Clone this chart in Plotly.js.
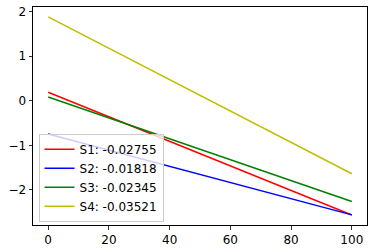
<!DOCTYPE html>
<html><head><meta charset="utf-8">
<script src="https://cdn.plot.ly/plotly-3.0.1.min.js"></script>
<style>html,body{margin:0;padding:0;background:#fff}#chart{width:373px;height:252px}</style>
</head><body><div id="chart"></div>
<script>
const xVals = [0, 100];
const s1 = [0.19, -2.565];
const s2 = [-0.745, -2.563];
const s3 = [0.083, -2.262];
const s4 = [1.883, -1.638];
const seriesNames = ["S1: -0.02755", "S2: -0.01818", "S3: -0.02345", "S4: -0.03521"];
const seriesColors = ["#ff0000", "#0000ff", "#008000", "#bfbf00"];
const xTicks = [0, 20, 40, 60, 80, 100];
const yTicks = [-2, -1, 0, 1, 2];
const yTickText = ["\u22122", "\u22121", "0", "1", "2"];

const data = [s1, s2, s3, s4].map((ys, i) => ({
  x: xVals, y: ys, type: "scatter", mode: "lines", name: seriesNames[i],
  line: {color: seriesColors[i], width: 1.5}
}));

const axisCommon = {
  showgrid: false, zeroline: false, showline: true, mirror: true,
  linecolor: "#000", linewidth: 1, ticks: "outside", ticklen: 3.5,
  tickwidth: 0.8, tickcolor: "#000",
  tickfont: {family: "DejaVu Sans", size: 12, color: "#000"}
};

const layout = {
  width: 373, height: 252,
  margin: {l: 32.5, r: 6.3, t: 7.3, b: 26.7},
  paper_bgcolor: "#fff", plot_bgcolor: "#fff",
  showlegend: true,
  xaxis: Object.assign({}, axisCommon, {range: [-5, 105], tickvals: xTicks}),
  yaxis: Object.assign({}, axisCommon, {range: [-2.79, 2.106], tickvals: yTicks, ticktext: yTickText}),
  legend: {
    x: 0.0165, y: 0.015, xanchor: "left", yanchor: "bottom",
    bgcolor: "rgba(255,255,255,0.8)", bordercolor: "#cccccc", borderwidth: 1,
    font: {family: "DejaVu Sans", size: 12, color: "#000"},
    tracegroupgap: 0
  }
};

Plotly.newPlot("chart", data, layout, {staticPlot: true, displayModeBar: false});
</script>
</body></html>
